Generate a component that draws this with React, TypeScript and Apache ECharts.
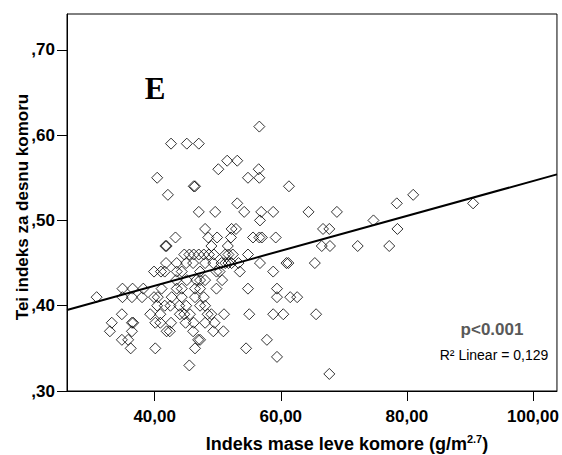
import React, { useEffect, useRef } from "react";
import * as echarts from "echarts";

// Tei index levels (y) and the LV mass index values (x) of the points at each level
const teiLevels = [0.61, 0.59, 0.57, 0.56, 0.55, 0.54, 0.53, 0.52, 0.51, 0.5, 0.49, 0.48, 0.47, 0.46, 0.45, 0.44, 0.43, 0.42, 0.41, 0.4, 0.39, 0.38, 0.37, 0.36, 0.35, 0.34, 0.33, 0.32];
const lviByLevel = [
  [56.6],
  [42.6, 45.1, 47.0],
  [51.5, 53.1],
  [50.1, 56.5],
  [40.4, 54.8, 56.6],
  [46.2, 46.4, 61.3],
  [42.1, 81.0],
  [53.1, 78.4, 90.5],
  [47.0, 49.6, 54.2, 56.9, 58.8, 64.4, 68.9],
  [56.7, 74.7],
  [48.0, 52.2, 52.9, 66.7, 67.7, 78.5],
  [43.3, 48.5, 49.9, 52.1, 55.6, 56.6, 57.0, 59.2],
  [41.7, 41.9, 49.0, 51.6, 66.5, 67.8, 72.2, 77.2],
  [44.7, 45.5, 46.2, 47.0, 47.8, 48.6, 49.4, 51.2, 51.7, 52.4, 54.8],
  [41.8, 43.5, 45.0, 46.1, 48.0, 49.3, 50.6, 51.2, 51.7, 52.2, 53.3, 56.7, 60.9, 61.2, 65.4],
  [39.9, 41.0, 41.6, 43.5, 44.3, 47.2, 49.8, 50.3, 53.5, 58.8],
  [43.4, 45.1, 46.6, 47.2, 48.0, 50.7],
  [34.9, 36.5, 38.2, 41.1, 43.5, 44.3, 46.4, 47.2, 49.8, 54.8, 59.4],
  [30.8, 34.9, 36.4, 38.0, 39.9, 40.5, 42.7, 44.3, 46.4, 47.8, 59.4, 61.5, 62.6],
  [40.4, 41.6, 42.5, 43.9, 45.0, 47.2, 48.0],
  [34.8, 39.3, 40.9, 44.0, 44.7, 45.6, 48.4, 49.0, 51.0, 55.0, 58.8, 60.4, 65.6],
  [33.2, 36.4, 36.6, 40.1, 40.9, 42.6, 44.9, 46.2, 48.0, 49.5],
  [32.9, 36.4, 41.9, 42.4, 46.1, 49.3, 50.9],
  [34.8, 35.8, 46.9, 47.2, 57.8],
  [36.2, 40.1, 46.4, 54.5],
  [59.4],
  [45.5],
  [67.7],
];

const xTicks = [40, 60, 80, 100];
const yTicks = [0.3, 0.4, 0.5, 0.6, 0.7];
const xRange = [26.1, 103.8];
const yRange = [0.3, 0.742];
const fitIntercept = 0.3416;
const fitSlope = 0.002046;

const SANS = '"Liberation Sans", Arial, sans-serif';

export default function App() {
  const ref = useRef<HTMLDivElement>(null);

  useEffect(() => {
    document.body.style.margin = "0";
    if (!ref.current) return;
    const chart = echarts.init(ref.current, undefined, { renderer: "svg" });

    const points: number[][] = [];
    teiLevels.forEach((y, i) => {
      lviByLevel[i].forEach((x) => points.push([x, y]));
    });
    const fitLine = xRange.map((x) => [x, fitIntercept + fitSlope * x]);

    chart.setOption({
      animation: false,
      backgroundColor: "#fff",
      grid: {
        left: 67,
        right: 5,
        top: 14,
        bottom: 64,
        show: true,
        borderColor: "#000",
        borderWidth: 1,
        backgroundColor: "#fff",
      },
      xAxis: {
        type: "value",
        min: xRange[0],
        max: xRange[1],
        axisLine: { show: true, lineStyle: { color: "#000", width: 1 } },
        axisTick: { show: true, length: 10, customValues: xTicks, lineStyle: { color: "#000" } },
        axisLabel: {
          customValues: xTicks,
          formatter: (v: number) => v.toFixed(2).replace(".", ","),
          fontFamily: SANS,
          fontWeight: "bold",
          fontSize: 17,
          color: "#000",
          margin: 17,
        },
        splitLine: { show: false },
      },
      yAxis: {
        type: "value",
        min: yRange[0],
        max: yRange[1],
        axisLine: { show: true, lineStyle: { color: "#000", width: 1 } },
        axisTick: { show: true, length: 10, customValues: yTicks, lineStyle: { color: "#000" } },
        axisLabel: {
          customValues: yTicks,
          formatter: (v: number) => "," + Math.round(v * 100),
          fontFamily: SANS,
          fontWeight: "bold",
          fontSize: 17,
          color: "#000",
          margin: 12,
        },
        splitLine: { show: false },
      },
      series: [
        {
          type: "scatter",
          data: points,
          symbol: "diamond",
          symbolSize: 11,
          itemStyle: { color: "rgba(0,0,0,0)", borderColor: "#000", borderWidth: 1 },
          silent: true,
          z: 2,
        },
        {
          type: "line",
          data: fitLine,
          showSymbol: false,
          symbol: "none",
          lineStyle: { color: "#000", width: 2 },
          silent: true,
          z: 3,
        },
      ],
      graphic: [
        {
          type: "text",
          x: 155,
          y: 88,
          style: {
            text: "E",
            font: 'bold 31px "Liberation Serif", "Times New Roman", serif',
            fill: "#000",
            align: "center",
            verticalAlign: "middle",
          },
        },
        {
          type: "text",
          x: 492,
          y: 329,
          style: {
            text: "p<0.001",
            font: "bold 17px " + SANS,
            fill: "#595959",
            align: "center",
            verticalAlign: "middle",
          },
        },
        {
          type: "text",
          x: 494,
          y: 355,
          style: {
            text: "R² Linear = 0,129",
            font: "14px " + SANS,
            fill: "#000",
            align: "center",
            verticalAlign: "middle",
          },
        },
        {
          type: "text",
          x: 347,
          y: 444,
          style: {
            text: "{a|Indeks mase leve komore (g/m}{s|2.7}{a|)}",
            align: "center",
            verticalAlign: "middle",
            rich: {
              a: { fontFamily: SANS, fontWeight: "bold", fontSize: 18, color: "#000" },
              s: { fontFamily: SANS, fontWeight: "bold", fontSize: 11, color: "#000", padding: [0, 0, 10, 0] },
            },
          },
        },
        {
          type: "text",
          x: 22,
          y: 207,
          rotation: Math.PI / 2,
          style: {
            text: "Tei indeks za desnu komoru",
            font: "bold 17px " + SANS,
            fill: "#000",
            align: "center",
            verticalAlign: "middle",
          },
        },
      ],
    });

    return () => chart.dispose();
  }, []);

  return <div ref={ref} style={{ width: 562, height: 455 }} />;
}
